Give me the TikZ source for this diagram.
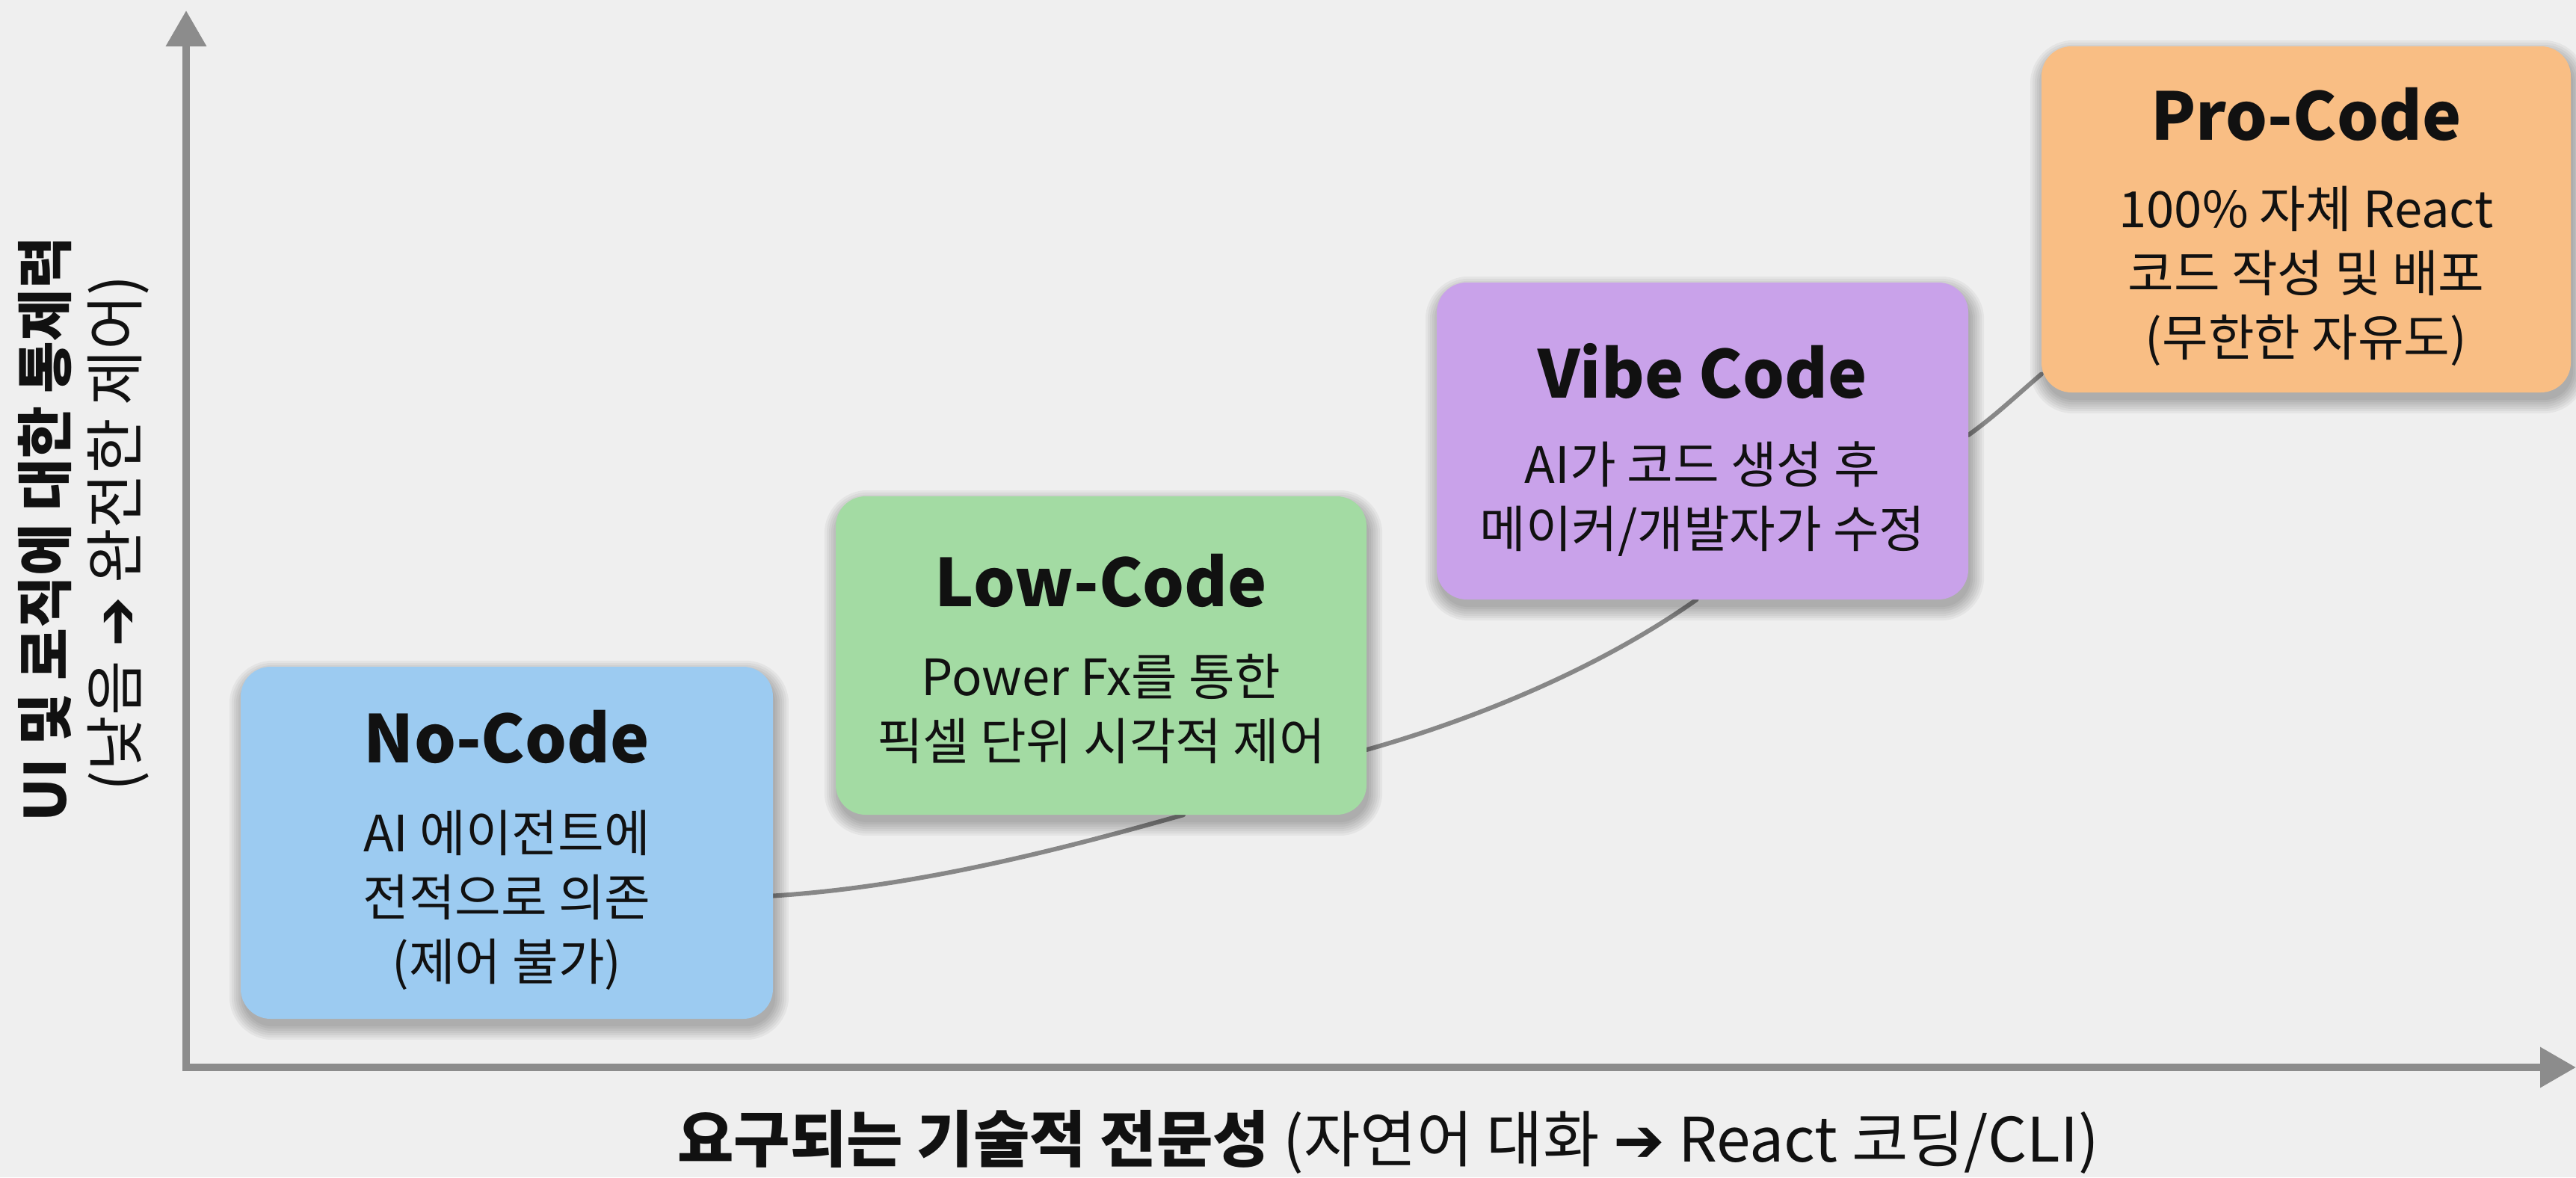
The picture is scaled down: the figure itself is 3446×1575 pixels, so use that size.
\documentclass[tikz,border=0pt]{standalone}
\usepackage{fontspec}
\setmainfont{Noto Sans CJK KR}
\newfontfamily\arrowfont{DejaVu Sans}
\usetikzlibrary{arrows.meta,calc}

\definecolor{pagebg}{HTML}{EFEFEF}
\definecolor{axisgray}{HTML}{8C8C8C}
\definecolor{curvegray}{HTML}{878787}
\definecolor{inktext}{HTML}{111111}
\definecolor{noblue}{HTML}{9CCBF1}
\definecolor{lowgreen}{HTML}{A3DBA3}
\definecolor{vibepurple}{HTML}{C9A2EA}
\definecolor{proorange}{HTML}{F9BE84}

\newcommand\sidearrow{{\arrowfont ➔}}

% soft drop shadow under a named box: stacked translucent rounded rectangles
\newcommand\softshade[1]{%
  \foreach \s in {18,15,12,9,6,3,0}{%
    \fill[black, opacity=0.045, rounded corners={40pt+\s pt}]
      ($(#1.south west)+(3-\s,10+\s)$) rectangle ($(#1.north east)+(3+\s,10-\s)$);
  }%
}

\pgfdeclarelayer{bgfill}
\pgfdeclarelayer{links}
\pgfdeclarelayer{shades}
\pgfsetlayers{bgfill,links,shades,main}

\tikzset{
  stagebox/.style={rectangle, rounded corners=40pt, inner sep=0pt, draw=none},
  stagetitle/.style={font=\bfseries\fontsize{88}{96}\selectfont, text=inktext, inner sep=0pt},
  stagebody/.style={font=\fontsize{67}{86}\selectfont, text=inktext, align=center, inner sep=0pt},
  axisline/.style={draw=axisgray, line width=10pt,
    {Triangle[length=48pt,width=52pt]}-{Triangle[length=48pt,width=52pt]}},
  trend/.style={draw=curvegray, line width=6pt, line cap=round},
  axislabel/.style={font=\fontsize{82}{90}\selectfont, text=inktext, inner sep=0pt},
}

\begin{document}
\begin{tikzpicture}[x=1pt,y=-1pt]
  % page background
  \begin{pgfonlayer}{bgfill}
    \fill[pagebg] (0,0) rectangle (3446,1575);
  \end{pgfonlayer}
  \useasboundingbox (0,0) rectangle (3446,1575);

  % axes
  \coordinate (origin) at (249,1428);
  \coordinate (ytip) at (249,14);
  \coordinate (xtip) at (3446,1428);
  \draw[axisline] (ytip) -- (origin) -- (xtip);

  % axis labels
  \node[axislabel] (xlabel) at (1857,1528)
    {\textbf{요구되는 기술적 전문성} (자연어 대화 \sidearrow{} React 코딩/CLI)};
  \node[axislabel, font=\bfseries\fontsize{76}{84}\selectfont, rotate=90] (ylabel) at (60,708)
    {UI 및 로직에 대한 통제력};
  \node[axislabel, font=\fontsize{80}{88}\selectfont, rotate=90] (ysub) at (158,713)
    {(낮음 \sidearrow{} 완전한 제어)};

  % stage boxes
  \node[stagebox, fill=noblue, minimum width=712pt, minimum height=471pt] (nocode) at (678,1127.5) {};
  \node[stagebox, fill=lowgreen, minimum width=710pt, minimum height=426pt] (lowcode) at (1473,877) {};
  \node[stagebox, fill=vibepurple, minimum width=711pt, minimum height=424pt] (vibe) at (2277.5,590) {};
  \node[stagebox, fill=proorange, minimum width=708pt, minimum height=463pt] (procode) at (3085,293.5) {};

  \begin{pgfonlayer}{shades}
    \softshade{nocode}
    \softshade{lowcode}
    \softshade{vibe}
    \softshade{procode}
  \end{pgfonlayer}

  % stage texts
  \node[stagetitle] (nocodeT) at (678,986) {No-Code};
  \node[stagebody] (nocodeB) at (678,1204) {AI 에이전트에\\전적으로 의존\\(제어 불가)};

  \node[stagetitle] (lowcodeT) at (1473,777) {Low-Code};
  \node[stagebody] (lowcodeB) at (1473,948) {Power Fx를 통한\\픽셀 단위 시각적 제어};

  \node[stagetitle] (vibeT) at (2277.5,497) {Vibe Code};
  \node[stagebody] (vibeB) at (2277.5,668) {AI가 코드 생성 후\\메이커/개발자가 수정};

  \node[stagetitle] (procodeT) at (3085,153) {Pro-Code};
  \node[stagebody] (procodeB) at (3085,369) {100\% 자체 React\\코드 작성 및 배포\\(무한한 자유도)};

  % growth curve running behind the boxes
  \begin{pgfonlayer}{links}
    \draw[trend] ([yshift=-71pt]nocode.east)
      .. controls +(190,-12) and +(-170,48) .. ([xshift=110pt]lowcode.south);
    \draw[trend] ([yshift=-126pt]lowcode.east)
      .. controls +(160,-45) and +(-120,85) .. ([xshift=-8pt]vibe.south);
    \draw[trend] ([yshift=8pt]vibe.east)
      .. controls +(35,-25) and +(-35,30) .. ([yshift=-207pt]procode.west);
  \end{pgfonlayer}
\end{tikzpicture}
\end{document}
